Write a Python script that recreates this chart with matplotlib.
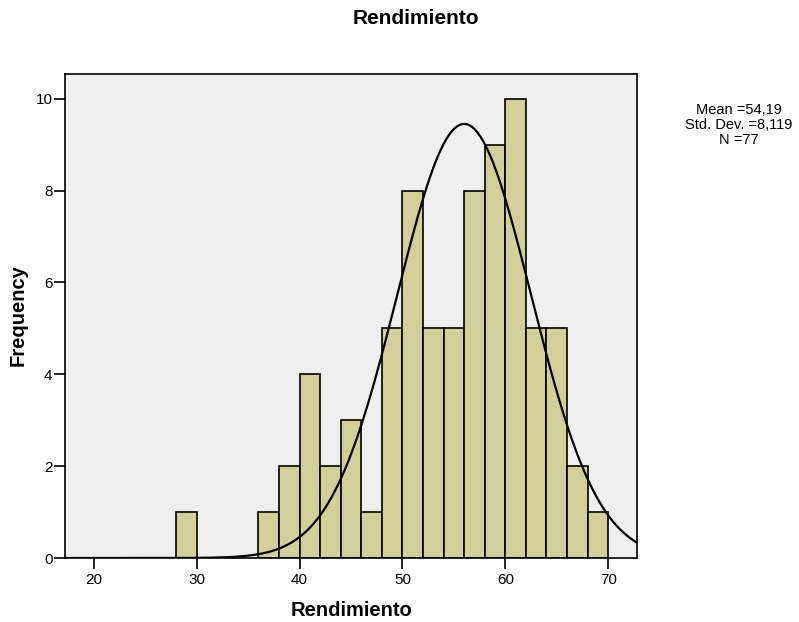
import numpy as np
import matplotlib
matplotlib.use('Agg')
import matplotlib.pyplot as plt

plt.rcParams['font.family'] = ['Liberation Sans', 'DejaVu Sans']

# histogram of Rendimiento, bins of width 2
bin_left = [28, 36, 38, 40, 42, 44, 46, 48, 50, 52, 54, 56, 58, 60, 62, 64, 66, 68]
counts   = [1, 1, 2, 4, 2, 3, 1, 5, 8, 5, 5, 8, 9, 10, 5, 5, 2, 1]
bin_width = 2

# normal curve as drawn
curve_mean = 56.0
curve_sd = 6.5
n_total = 77

stats_text = "Mean =54,19\nStd. Dev. =8,119\nN =77"

W, H = 799, 622
fig = plt.figure(figsize=(W / 100, H / 100), dpi=100)
ax = fig.add_axes([65 / W, 1 - 558 / H, (637 - 65) / W, (558 - 74) / H])
ax.set_facecolor('#EFEFEF')

ax.bar(bin_left, counts, width=bin_width, align='edge',
       color='#D3CF99', edgecolor='black', linewidth=1.2, zorder=2)

xs = np.linspace(17.2, 72.8, 400)
ys = n_total * bin_width * np.exp(-0.5 * ((xs - curve_mean) / curve_sd) ** 2) / (curve_sd * np.sqrt(2 * np.pi))
ax.plot(xs, ys, color='black', linewidth=1.6, zorder=3)

ax.set_xlim(17.2, 72.8)
ax.set_ylim(0, 10.54)
ax.set_xticks([20, 30, 40, 50, 60, 70])
ax.set_yticks([0, 2, 4, 6, 8, 10])
ax.tick_params(axis='both', direction='out', length=8, width=1.2, labelsize=11, color='black')
ax.tick_params(axis='x', pad=3)
ax.tick_params(axis='y', pad=1)
for sp in ax.spines.values():
    sp.set_linewidth(1.2)
    sp.set_color('black')

fig.text(416 / W, 1 - 18 / H, 'Rendimiento', ha='center', va='center',
         fontsize=15, fontweight='bold')
fig.text(351 / W, 1 - 610 / H, 'Rendimiento', ha='center', va='center',
         fontsize=14.5, fontweight='bold')
fig.text(18 / W, 1 - 315 / H, 'Frequency', ha='center', va='center',
         rotation=90, fontsize=14.5, fontweight='bold')
fig.text(739 / W, 1 - 125 / H, stats_text, ha='center', va='center',
         fontsize=10.5, linespacing=1.1)

fig.savefig('out.png', dpi=100)
